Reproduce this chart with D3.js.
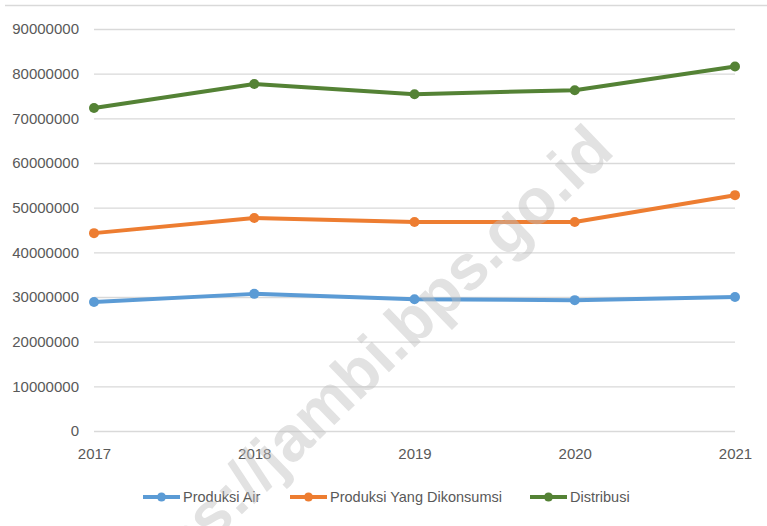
<!DOCTYPE html>
<html>
<head>
<meta charset="utf-8">
<script src="https://cdn.jsdelivr.net/npm/d3@7"></script>
<style>
  body { margin: 0; background: #fff; }
  text { font-family: "Liberation Sans", Arial, sans-serif; }
</style>
</head>
<body>
<div id="chart"></div>
<script>
"use strict";

var years = ["2017", "2018", "2019", "2020", "2021"];
var produksiAir = [28900000, 30700000, 29500000, 29300000, 30000000];
var produksiKonsumsi = [44300000, 47700000, 46800000, 46800000, 52800000];
var distribusi = [72300000, 77700000, 75400000, 76300000, 81600000];
var yTicks = [0, 10000000, 20000000, 30000000, 40000000, 50000000, 60000000, 70000000, 80000000, 90000000];

var series = [
  { name: "Produksi Air", values: produksiAir, color: "#5b9bd5" },
  { name: "Produksi Yang Dikonsumsi", values: produksiKonsumsi, color: "#ed7d31" },
  { name: "Distribusi", values: distribusi, color: "#548235" }
];

var width = 767, height = 526;
var margin = { left: 94, right: 32, top: 29, bottom: 95 };

var svg = d3.select("#chart").append("svg")
  .attr("width", width)
  .attr("height", height);

// top border line of chart frame
svg.append("line")
  .attr("x1", 5).attr("x2", width)
  .attr("y1", 5.5).attr("y2", 5.5)
  .style("stroke", "#d9d9d9")
  .style("stroke-width", 1.5);

var x = d3.scalePoint()
  .domain(years)
  .range([margin.left, width - margin.right]);

var y = d3.scaleLinear()
  .domain([0, 90000000])
  .range([height - margin.bottom, margin.top]);

// gridlines + y labels
var yAxis = svg.append("g")
  .attr("transform", "translate(" + margin.left + ",0)")
  .call(d3.axisLeft(y)
    .tickValues(yTicks)
    .tickSize(-(width - margin.left - margin.right))
    .tickPadding(15)
    .tickFormat(d3.format("d")));
yAxis.select(".domain").remove();
yAxis.selectAll(".tick line")
  .style("stroke", "#d9d9d9")
  .style("stroke-width", 1.3);
yAxis.selectAll(".tick text")
  .style("font-size", "15px")
  .style("fill", "#595959");

// x labels
var xAxis = svg.append("g")
  .attr("transform", "translate(0," + (height - margin.bottom) + ")")
  .call(d3.axisBottom(x).tickSize(0).tickPadding(17));
xAxis.select(".domain").remove();
xAxis.selectAll(".tick text")
  .style("font-size", "15px")
  .style("fill", "#595959");

var line = d3.line()
  .x(function(d, i) { return x(years[i]); })
  .y(function(d) { return y(d); });

series.forEach(function(s) {
  svg.append("path")
    .datum(s.values)
    .attr("d", line)
    .style("fill", "none")
    .style("stroke", s.color)
    .style("stroke-width", 4)
    .style("stroke-linejoin", "round");
  svg.selectAll(null)
    .data(s.values)
    .enter().append("circle")
    .attr("cx", function(d, i) { return x(years[i]); })
    .attr("cy", function(d) { return y(d); })
    .attr("r", 5)
    .style("fill", s.color);
});

// legend
var legendX = [143, 290, 530];
var legend = svg.selectAll(".legend")
  .data(series)
  .enter().append("g")
  .attr("class", "legend")
  .attr("transform", function(d, i) { return "translate(" + legendX[i] + ",497)"; });
legend.append("line")
  .attr("x1", 0).attr("x2", 37)
  .style("stroke", function(d) { return d.color; })
  .style("stroke-width", 4);
legend.append("circle")
  .attr("cx", 18.5)
  .attr("r", 4.5)
  .style("fill", function(d) { return d.color; });
legend.append("text")
  .attr("x", 40)
  .attr("y", 5)
  .style("font-size", "14.5px")
  .style("fill", "#595959")
  .text(function(d) { return d.name; });

// watermark
svg.append("text")
  .attr("transform", "translate(616,153) rotate(-44)")
  .attr("text-anchor", "end")
  .style("font-size", "64px")
  .style("font-weight", "bold")
  .style("fill", "#bfbfbf")
  .style("opacity", 0.45)
  .text("https://jambi.bps.go.id");
</script>
</body>
</html>
